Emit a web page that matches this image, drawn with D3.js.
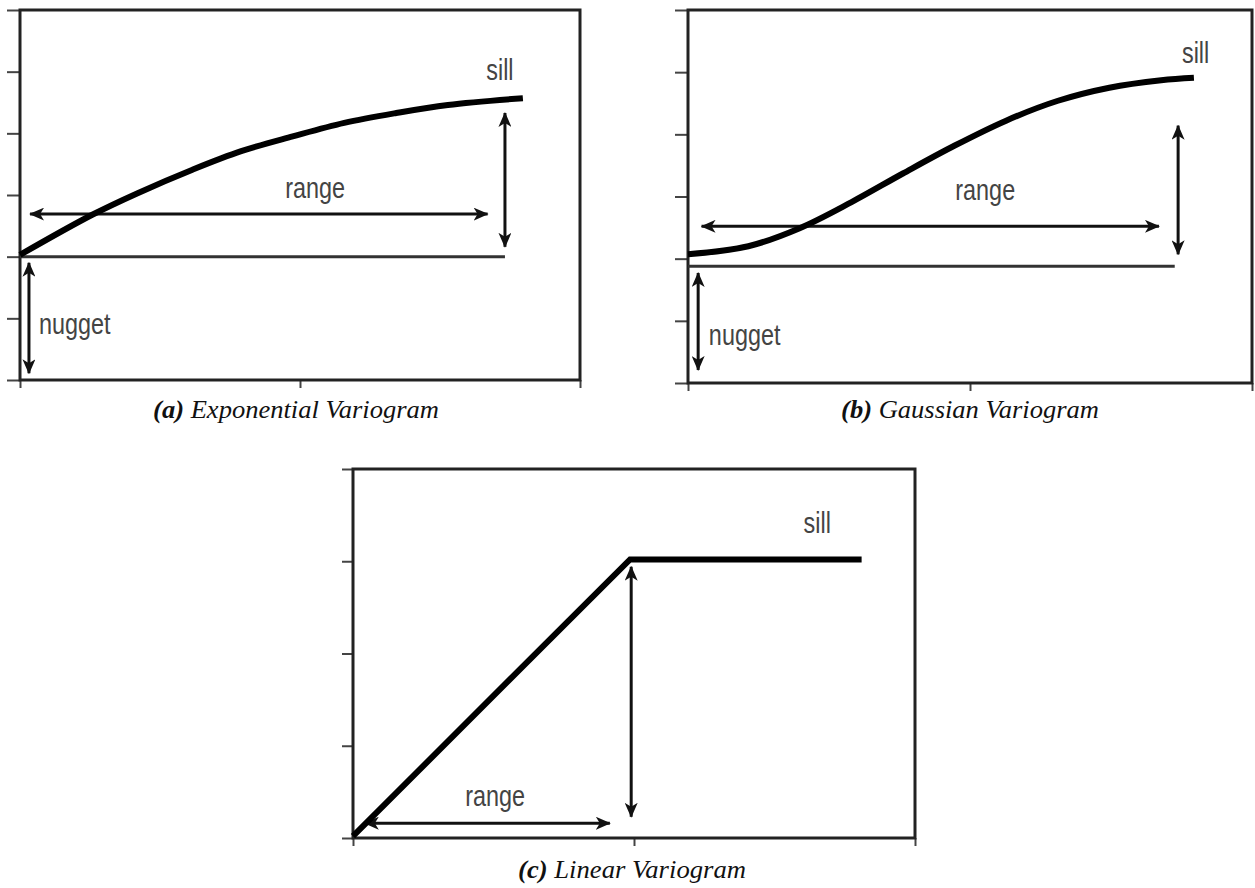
<!DOCTYPE html>
<html>
<head>
<meta charset="utf-8">
<script src="https://cdn.jsdelivr.net/npm/d3@7"></script>
<style>
  body { margin: 0; background: #fff; }
  .lbl { font-family: "Liberation Sans", Arial, sans-serif; font-size: 30px; fill: #444; }
  .cap { font-family: "Liberation Serif", "Times New Roman", serif; font-size: 25px; font-style: italic; fill: #111; }
</style>
</head>
<body>
<script>
// ---- data (lag h on x, semivariance on y) ----
var xTicks = [0, 5, 10];
var yTicksAB = [0, 1, 2, 3, 4, 5, 6];
var yTicksC = [0, 1, 2, 3, 4];

// (a) exponential
var expH = [0, 1.29, 2.10, 3.08, 3.95, 4.87, 5.79, 6.72, 7.64, 8.98];
var expG = [2.03, 2.68, 3.03, 3.41, 3.71, 3.95, 4.17, 4.33, 4.46, 4.57];
// (b) gaussian
var gauH = [0, 1.07, 1.98, 2.90, 3.81, 4.73, 5.64, 6.56, 7.47, 8.39, 8.97];
var gauG = [2.07, 2.20, 2.49, 2.91, 3.37, 3.82, 4.22, 4.54, 4.75, 4.87, 4.91];
// (c) linear
var linH = [0, 4.93, 9.05];
var linG = [0.02, 3.02, 3.02];

// annotations: [x1, y1, x2, y2] in data units
var nuggetLineA = [0, 2.0, 8.66, 2.0];
var nuggetLineB = [0, 1.88, 8.63, 1.88];
var rangeArrowA = [0.18, 2.69, 8.35, 2.69];
var rangeArrowB = [0.24, 2.52, 8.35, 2.52];
var rangeArrowC = [0.21, 0.16, 4.57, 0.16];
var sillArrowA = [8.66, 4.33, 8.66, 2.16];
var sillArrowB = [8.69, 4.14, 8.69, 2.07];
var sillArrowC = [4.95, 2.94, 4.95, 0.23];
var nuggetArrowA = [0.16, 1.90, 0.16, 0.11];
var nuggetArrowB = [0.18, 1.77, 0.18, 0.21];

// labels: [text, x, y, anchor]
var labelsA = [["sill", 8.57, 4.86, "middle"], ["range", 5.27, 2.95, "middle"], ["nugget", 0.34, 0.75, "start"]];
var labelsB = [["sill", 9.0, 5.15, "middle"], ["range", 5.27, 2.94, "middle"], ["nugget", 0.37, 0.61, "start"]];
var labelsC = [["sill", 8.26, 3.31, "middle"], ["range", 2.53, 0.35, "middle"]];

var captions = [["(a)", " Exponential Variogram"], ["(b)", " Gaussian Variogram"], ["(c)", " Linear Variogram"]];

var svg = d3.select("body").append("svg").attr("width", 1255).attr("height", 888);

var defs = svg.append("defs");
defs.append("marker").attr("id", "head")
    .attr("viewBox", "0 0 15 13").attr("refX", 14).attr("refY", 6.5)
    .attr("markerWidth", 15).attr("markerHeight", 13)
    .attr("markerUnits", "userSpaceOnUse").attr("orient", "auto-start-reverse")
    .append("path").attr("d", "M0,0 L15,6.5 L0,13 L4,6.5 z").attr("fill", "#111");

function panel(cfg) {
    var x = d3.scaleLinear().domain([0, 10]).range([cfg.left, cfg.right]);
    var y = d3.scaleLinear().domain([0, cfg.yTicks[cfg.yTicks.length - 1]]).range([cfg.bottom, cfg.top]);
    var g = svg.append("g");

    // ticks
    g.append("g").attr("transform", "translate(" + cfg.left + ",0)")
        .call(d3.axisLeft(y).tickValues(cfg.yTicks).tickSize(cfg.tick).tickFormat(""))
        .call(function (a) { a.select(".domain").remove(); a.selectAll("line").attr("stroke", "#444").attr("stroke-width", 2); });
    g.append("g").attr("transform", "translate(0," + cfg.bottom + ")")
        .call(d3.axisBottom(x).tickValues(xTicks).tickSize(8).tickFormat(""))
        .call(function (a) { a.select(".domain").remove(); a.selectAll("line").attr("stroke", "#444").attr("stroke-width", 2); });

    // frame
    g.append("rect").attr("x", cfg.left).attr("y", cfg.top)
        .attr("width", cfg.right - cfg.left).attr("height", cfg.bottom - cfg.top)
        .attr("fill", "none").attr("stroke", "#222").attr("stroke-width", 3);

    // nugget level line
    if (cfg.nuggetLine) {
        var n = cfg.nuggetLine;
        g.append("line").attr("x1", x(n[0])).attr("y1", y(n[1])).attr("x2", x(n[2])).attr("y2", y(n[3]))
            .attr("stroke", "#333").attr("stroke-width", 3);
    }

    // arrows
    cfg.arrows.forEach(function (a) {
        g.append("line").attr("x1", x(a[0])).attr("y1", y(a[1])).attr("x2", x(a[2])).attr("y2", y(a[3]))
            .attr("stroke", "#111").attr("stroke-width", 3)
            .attr("marker-start", "url(#head)").attr("marker-end", "url(#head)");
    });

    // variogram curve
    var line = d3.line().x(function (d) { return x(d[0]); }).y(function (d) { return y(d[1]); })
        .curve(cfg.curve);
    g.append("path").datum(d3.zip(cfg.h, cfg.g)).attr("d", line)
        .attr("fill", "none").attr("stroke", "#000").attr("stroke-width", 6)
        .attr("stroke-linejoin", "miter");

    // labels (condensed, like the original figure's narrow sans)
    g.selectAll("text.lbl").data(cfg.labels).enter().append("text").attr("class", "lbl")
        .attr("transform", function (d) { return "translate(" + x(d[1]) + "," + y(d[2]) + ") scale(0.78,1)"; })
        .attr("text-anchor", function (d) { return d[3]; })
        .text(function (d) { return d[0]; });

    // caption, stretched to the original's width
    var c = g.append("text").attr("class", "cap").attr("text-anchor", "middle");
    c.append("tspan").attr("font-weight", "bold").text(cfg.caption[0]);
    c.append("tspan").text(cfg.caption[1]);
    var w = c.node().getComputedTextLength();
    c.attr("transform", "translate(" + cfg.capX + "," + cfg.capY + ") scale(" + (cfg.capW / w) + ",1)");
}

panel({ left: 20, right: 580, top: 10, bottom: 380, tick: 13, yTicks: yTicksAB,
    h: expH, g: expG, curve: d3.curveCatmullRom, nuggetLine: nuggetLineA,
    arrows: [rangeArrowA, sillArrowA, nuggetArrowA], labels: labelsA,
    caption: captions[0], capX: 296, capY: 418, capW: 286 });

panel({ left: 688, right: 1252, top: 10, bottom: 383, tick: 13, yTicks: yTicksAB,
    h: gauH, g: gauG, curve: d3.curveCatmullRom, nuggetLine: nuggetLineB,
    arrows: [rangeArrowB, sillArrowB, nuggetArrowB], labels: labelsB,
    caption: captions[1], capX: 970, capY: 418, capW: 258 });

panel({ left: 353, right: 915, top: 469, bottom: 838, tick: 11, yTicks: yTicksC,
    h: linH, g: linG, curve: d3.curveLinear, nuggetLine: null,
    arrows: [rangeArrowC, sillArrowC], labels: labelsC,
    caption: captions[2], capX: 632, capY: 878, capW: 228 });
</script>
</body>
</html>
